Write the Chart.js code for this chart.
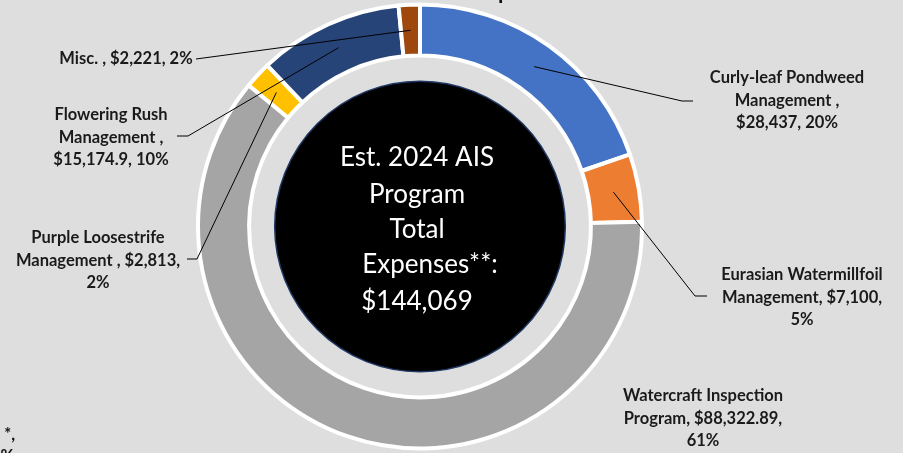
<!DOCTYPE html>
<html>
<head>
<meta charset="utf-8">
<title>Est. 2024 AIS Program Expenses</title>
<script src="https://cdn.jsdelivr.net/npm/chart.js@4/dist/chart.umd.min.js"></script>
<style>
  html, body { margin: 0; padding: 0; background: #dedede; }
  #wrap { width: 903px; height: 453px; position: relative; }
</style>
</head>
<body>
<div id="wrap"><canvas id="aisChart"></canvas></div>
<script>
// data
const categories = [
  'Curly-leaf Pondweed Management',
  'Eurasian Watermillfoil Management',
  'Watercraft Inspection Program',
  'Purple Loosestrife Management',
  'Flowering Rush Management',
  'Misc.'
];
const expenses = [28437, 7100, 88322.89, 2813, 15174.9, 2221];
const labelLines = [
  ['Curly-leaf Pondweed', 'Management ,', '$28,437, 20%'],
  ['Eurasian Watermillfoil', 'Management, $7,100,', '5%'],
  ['Watercraft Inspection', 'Program, $88,322.89,', '61%'],
  ['Purple Loosestrife', 'Management , $2,813,', '2%'],
  ['Flowering Rush', 'Management ,', '$15,174.9, 10%'],
  ['Misc. , $2,221, 2%']
];
const centerLines = ['Est. 2024 AIS', 'Program', 'Total', 'Expenses**:', '$144,069'];
const sliceColors = ['#4472C4', '#ED7D31', '#A5A5A5', '#FFC000', '#264478', '#9E480E'];

// where the label boxes sit (text centre x, first line y, leader bend, leader end)
const labelLayout = [
  { x: 787, y: 78, bend: [682, 101], end: [693, 101] },
  { x: 802, y: 275, bend: [695, 296], end: [707, 296] },
  { x: 703, y: 396, bend: null, end: null },
  { x: 98, y: 238, bend: [197, 259], end: [187, 259] },
  { x: 111, y: 115, bend: [188, 136], end: [177, 136] },
  { x: 126, y: 59, bend: [196, 59], end: [196, 59] }
];
const centerOffsets = [-69, -32, 3, 38, 75];
const centerShiftX = [-3, -3, -3, 10, -3];

const labelPlugin = {
  id: 'aisLabels',
  afterDatasetsDraw(chart) {
    const ctx = chart.ctx;
    const arcs = chart.getDatasetMeta(0).data;
    const cx = arcs[0].x, cy = arcs[0].y;
    const holeR = arcs[0].innerRadius * 0.85;

    ctx.save();
    // black centre disc
    ctx.beginPath();
    ctx.arc(cx, cy, holeR, 0, Math.PI * 2);
    ctx.fillStyle = '#000000';
    ctx.fill();
    ctx.lineWidth = 1.5;
    ctx.strokeStyle = '#1F3864';
    ctx.stroke();

    ctx.fillStyle = '#ffffff';
    ctx.font = '26px Lato, "Open Sans", sans-serif';
    ctx.textAlign = 'center';
    ctx.textBaseline = 'middle';
    centerLines.forEach((t, i) => {
      ctx.fillText(t, cx + centerShiftX[i], cy + centerOffsets[i]);
    });

    // leader lines
    ctx.strokeStyle = '#000000';
    ctx.lineWidth = 1;
    arcs.forEach((arc, i) => {
      const lay = labelLayout[i];
      if (!lay.bend) return;
      const p = arc.getCenterPoint();
      ctx.beginPath();
      ctx.moveTo(p.x, p.y);
      ctx.lineTo(lay.bend[0], lay.bend[1]);
      ctx.lineTo(lay.end[0], lay.end[1]);
      ctx.stroke();
    });

    // data labels
    ctx.fillStyle = '#1a1a1a';
    ctx.font = 'bold 16.5px Lato, "Open Sans", sans-serif';
    labelLines.forEach((lines, i) => {
      const lay = labelLayout[i];
      lines.forEach((t, j) => {
        ctx.fillText(t, lay.x, lay.y + j * 22.5);
      });
    });

    // clipped text from the slide edges
    ctx.fillStyle = '#111111';
    ctx.font = 'bold 22px Lato, sans-serif';
    ctx.textAlign = 'left';
    ctx.textBaseline = 'alphabetic';
    ctx.fillText('p', 498, -1);
    ctx.font = 'bold 16.5px Lato, sans-serif';
    ctx.textAlign = 'right';
    ctx.fillText('*,', 15, 440);
    ctx.fillText('%', 14, 462);
    ctx.restore();
  }
};

new Chart(document.getElementById('aisChart'), {
  type: 'doughnut',
  data: {
    labels: categories,
    datasets: [{
      data: expenses,
      backgroundColor: sliceColors,
      borderColor: '#ffffff',
      borderWidth: 4,
      radius: 222,
      cutout: '77%'
    }]
  },
  options: {
    responsive: true,
    maintainAspectRatio: false,
    animation: false,
    layout: { padding: { left: 0, right: 63, top: 0, bottom: 0 } },
    plugins: {
      legend: { display: false },
      tooltip: { enabled: false }
    }
  },
  plugins: [labelPlugin]
});
</script>
</body>
</html>
